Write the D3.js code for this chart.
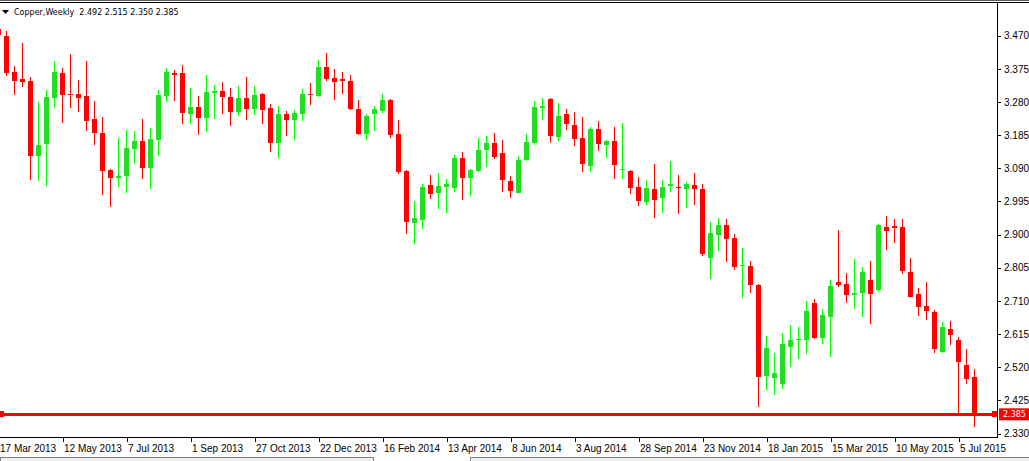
<!DOCTYPE html>
<html>
  <head>
    <meta charset="UTF-8">
    <script src="https://d3js.org/d3.v7.min.js"></script>
    <style type="text/css">
      body { margin: 0; background: #fff; }
      svg { display: block; font-family: "DejaVu Sans", sans-serif; font-size: 8px; }
      .axis text { fill: #000; }
      .title { white-space: pre; }
    </style>
  </head>
<body>
<script type="text/javascript">
var svgWidth = 1029;
var svgHeight = 461;

// weekly bars, first one (cut off at the left edge) starts on this sunday
var firstWeek = "17 Mar 2013";

var opens = [3.489, 3.469, 3.366, 3.346, 3.341, 3.126, 3.1605, 3.292, 3.363, 3.303,
  3.303, 3.297, 3.231, 3.191, 3.085, 3.062, 3.069, 3.146, 3.168, 3.091,
  3.172, 3.298, 3.363, 3.363, 3.2456, 3.266, 3.234, 3.306, 3.3115, 3.294,
  3.251, 3.2915, 3.260, 3.303, 3.263, 3.1625, 3.2456, 3.2285, 3.2456, 3.303,
  3.297, 3.380, 3.349, 3.346, 3.340, 3.260, 3.188, 3.2456, 3.254, 3.286,
  3.188, 3.082, 2.933, 2.942, 3.042, 3.019, 3.0365, 3.0336, 3.1196, 3.062,
  3.082, 3.1425, 3.1625, 3.134, 3.0537, 3.020, 3.1138, 3.1625, 3.263, 3.2886,
  3.1797, 3.2456, 3.214, 3.177, 3.0966, 3.2027, 3.157, 3.168, 3.085, 3.082,
  3.0365, 2.9935, 3.0307, 3.005, 3.039, 3.0365, 3.0307, 3.042, 3.0307, 2.833,
  2.899, 2.9276, 2.890, 2.8102, 2.810, 2.7557, 2.495, 2.489, 2.473, 2.579,
  2.598, 2.599, 2.704, 2.6047, 2.6648, 2.7643, 2.7585, 2.7279, 2.7336, 2.7694,
  2.7422, 2.9219, 2.9247, 2.9219, 2.793, 2.730, 2.6955, 2.678, 2.5646, 2.6296,
  2.598, 2.5264, 2.492];

var highs = [3.500, 3.4835, 3.383, 3.449, 3.352, 3.280, 3.314, 3.3975, 3.3775, 3.4175,
  3.343, 3.3975, 3.282, 3.237, 3.088, 3.177, 3.200, 3.197, 3.231, 3.2055,
  3.314, 3.3775, 3.372, 3.386, 3.320, 3.297, 3.357, 3.329, 3.337, 3.320,
  3.326, 3.3517, 3.326, 3.306, 3.274, 3.2686, 3.254, 3.257, 3.317, 3.3345,
  3.400, 3.4204, 3.3746, 3.366, 3.357, 3.286, 3.2456, 3.2686, 3.303, 3.2886,
  3.2285, 3.084, 2.9964, 3.045, 3.071, 3.0766, 3.059, 3.128, 3.137, 3.088,
  3.177, 3.1826, 3.191, 3.171, 3.068, 3.1253, 3.1883, 3.283, 3.2915, 3.2915,
  3.277, 3.260, 3.251, 3.237, 3.208, 3.2256, 3.171, 3.208, 3.220, 3.085,
  3.065, 3.0565, 3.102, 3.0565, 3.111, 3.071, 3.051, 3.0766, 3.045, 2.936,
  2.948, 2.9448, 2.9018, 2.8617, 2.8245, 2.759, 2.610, 2.560, 2.618, 2.641,
  2.6355, 2.710, 2.7155, 2.687, 2.770, 2.9133, 2.790, 2.830, 2.8072, 2.8245,
  2.9305, 2.9534, 2.9448, 2.9448, 2.833, 2.747, 2.7643, 2.684, 2.6497, 2.6525,
  2.6075, 2.572, 2.515];

var lows = [3.465, 3.355, 3.301, 3.324, 3.057, 3.0545, 3.040, 3.262, 3.221, 3.263,
  3.251, 3.198, 3.158, 3.014, 2.980, 3.0365, 3.020, 3.102, 3.060, 3.030,
  3.126, 3.280, 3.283, 3.217, 3.217, 3.1855, 3.194, 3.231, 3.2456, 3.211,
  3.240, 3.2285, 3.243, 3.217, 3.137, 3.1196, 3.1826, 3.171, 3.2256, 3.2714,
  3.294, 3.340, 3.286, 3.303, 3.257, 3.1855, 3.171, 3.197, 3.2485, 3.176,
  3.074, 2.902, 2.873, 2.916, 3.002, 2.973, 2.962, 3.022, 2.999, 3.0107,
  3.0795, 3.094, 3.1167, 3.022, 3.005, 3.018, 3.111, 3.157, 3.2285, 3.1625,
  3.168, 3.200, 3.154, 3.0795, 3.0795, 3.1396, 3.1196, 3.059, 3.059, 3.0164,
  2.982, 2.985, 2.948, 2.962, 3.022, 2.959, 2.9763, 2.985, 2.839, 2.773,
  2.8537, 2.8216, 2.7987, 2.7184, 2.733, 2.405, 2.455, 2.440, 2.4585, 2.5216,
  2.5445, 2.5588, 2.602, 2.5875, 2.5502, 2.7508, 2.705, 2.6878, 2.665, 2.6448,
  2.7365, 2.8568, 2.8769, 2.787, 2.720, 2.6677, 2.656, 2.5617, 2.5617, 2.5846,
  2.390, 2.473, 2.350];

var closes = [3.472, 3.364, 3.341, 3.338, 3.126, 3.157, 3.294, 3.366, 3.300, 3.300,
  3.292, 3.226, 3.192, 3.083, 3.062, 3.068, 3.148, 3.168, 3.091, 3.174,
  3.300, 3.366, 3.357, 3.249, 3.266, 3.234, 3.309, 3.3115, 3.294, 3.251,
  3.2915, 3.260, 3.300, 3.257, 3.1625, 3.2456, 3.2285, 3.2485, 3.303, 3.300,
  3.380, 3.346, 3.337, 3.341, 3.260, 3.188, 3.240, 3.260, 3.286, 3.186,
  3.0795, 2.936, 2.948, 3.0365, 3.016, 3.039, 3.045, 3.1196, 3.062, 3.085,
  3.1425, 3.1625, 3.1224, 3.0565, 3.025, 3.1138, 3.1654, 3.266, 3.2686, 3.1826,
  3.240, 3.217, 3.174, 3.102, 3.2027, 3.1597, 3.168, 3.0995, 3.088, 3.0336,
  2.9964, 3.0336, 2.999, 3.0365, 3.045, 3.0336, 3.045, 3.0307, 2.8445, 2.9047,
  2.9276, 2.8875, 2.807, 2.813, 2.7557, 2.492, 2.575, 2.5035, 2.5866, 2.598,
  2.601, 2.681, 2.6047, 2.6697, 2.7528, 2.7566, 2.7279, 2.7327, 2.793, 2.7307,
  2.9276, 2.9113, 2.919, 2.7958, 2.7221, 2.6935, 2.682, 2.573, 2.6353, 2.6133,
  2.536, 2.487, 2.385];

var priceTicks = [3.470, 3.375, 3.280, 3.185, 3.090, 2.995, 2.900, 2.805, 2.710, 2.615, 2.520, 2.425, 2.330];
var dateTicks = ["17 Mar 2013", "12 May 2013", "7 Jul 2013", "1 Sep 2013", "27 Oct 2013", "22 Dec 2013",
  "16 Feb 2014", "13 Apr 2014", "8 Jun 2014", "3 Aug 2014", "28 Sep 2014", "23 Nov 2014",
  "18 Jan 2015", "15 Mar 2015", "10 May 2015", "5 Jul 2015"];
var lastPrice = 2.385;
var title = "Copper,Weekly  2.492 2.515 2.350 2.385";

var upColor = "#00ff00", upBody = "#22dd22", downColor = "#ff0000";

var parseDay = d3.utcParse("%d %b %Y");
var start = parseDay(firstWeek);
var weeks = d3.utcWeek.range(start, d3.utcWeek.offset(start, opens.length));

var data = weeks.map(function(d, i) {
  return {date: d, o: opens[i], h: highs[i], l: lows[i], c: closes[i]};
});

var plot = {left: 0, right: 997, top: 3, bottom: 437};

var svg = d3.select("body").append("svg")
  .attr("width", svgWidth)
  .attr("height", svgHeight);

svg.append("rect").attr("width", svgWidth).attr("height", svgHeight).attr("fill", "#fff");

// 8px per week, ticks sit on the bar centre
var tickDates = dateTicks.map(parseDay);
var xScale = d3.scaleUtc()
  .domain([tickDates[0], tickDates[tickDates.length - 1]])
  .range([-1.5, 958.5]);

var yScale = d3.scaleLinear()
  .domain([2.330, 3.470])
  .range([433.5, 35.7]);

var chart = svg.append("g").attr("shape-rendering", "crispEdges");

// wicks
chart.selectAll(".wick")
  .data(data)
  .enter()
  .append("line")
  .attr("class", "wick")
  .attr("x1", function(d) { return xScale(d.date); })
  .attr("x2", function(d) { return xScale(d.date); })
  .attr("y1", function(d) { return yScale(d.h); })
  .attr("y2", function(d) { return yScale(d.l); })
  .attr("stroke", function(d) { return d.c >= d.o ? upColor : downColor; })
  .attr("stroke-width", 1);

// bodies
chart.selectAll(".body")
  .data(data)
  .enter()
  .append("rect")
  .attr("class", "body")
  .attr("x", function(d) { return xScale(d.date) - 2.5; })
  .attr("width", 5)
  .attr("y", function(d) { return yScale(Math.max(d.o, d.c)); })
  .attr("height", function(d) { return Math.max(1.5, Math.abs(yScale(d.o) - yScale(d.c))); })
  .attr("fill", function(d) { return d.c >= d.o ? upBody : downColor; });

// last price line
var yLast = yScale(lastPrice);
chart.append("line")
  .attr("x1", 0).attr("x2", plot.right)
  .attr("y1", yLast).attr("y2", yLast)
  .attr("stroke", downColor).attr("stroke-width", 3);
chart.append("rect").attr("x", 0).attr("y", yLast - 3).attr("width", 4).attr("height", 6).attr("fill", downColor);
chart.append("rect").attr("x", plot.right - 5).attr("y", yLast - 3).attr("width", 6).attr("height", 6).attr("fill", downColor);

// frame
var frame = svg.append("g").attr("shape-rendering", "crispEdges").attr("stroke", "#000");
frame.append("line").attr("x1", 0).attr("x2", svgWidth).attr("y1", 0.5).attr("y2", 0.5).attr("stroke", "#606060");
frame.append("line").attr("x1", 0).attr("x2", svgWidth).attr("y1", 2.5).attr("y2", 2.5);
frame.append("line").attr("x1", plot.right + 0.5).attr("x2", plot.right + 0.5).attr("y1", 2).attr("y2", plot.bottom + 1);
frame.append("line").attr("x1", 0).attr("x2", plot.right + 1).attr("y1", plot.bottom + 0.5).attr("y2", plot.bottom + 0.5);

// price axis
var yAxis = d3.axisRight(yScale)
  .tickValues(priceTicks)
  .tickSize(3)
  .tickPadding(3)
  .tickFormat(d3.format(".3f"));

var gY = svg.append("g")
  .attr("class", "axis")
  .attr("transform", "translate(" + (plot.right + 1) + ",0)")
  .attr("font-family", null).attr("font-size", null)
  .call(yAxis);
gY.select(".domain").remove();
gY.selectAll(".tick line").attr("stroke", "#000").attr("shape-rendering", "crispEdges");

// date axis
var xAxis = d3.axisBottom(xScale)
  .tickValues(tickDates)
  .tickSize(4)
  .tickFormat(d3.utcFormat("%-d %b %Y"));

var gX = svg.append("g")
  .attr("class", "axis")
  .attr("transform", "translate(0," + (plot.bottom + 1) + ")")
  .attr("font-family", null).attr("font-size", null)
  .call(xAxis);
gX.select(".domain").remove();
gX.selectAll(".tick line").attr("stroke", "#000").attr("shape-rendering", "crispEdges");
gX.selectAll(".tick text").attr("text-anchor", "start").attr("x", 1).attr("y", 7);

// last price label
svg.append("rect")
  .attr("x", plot.right + 2).attr("y", yLast - 6)
  .attr("width", svgWidth - plot.right - 2).attr("height", 12)
  .attr("fill", downColor);
svg.append("text")
  .attr("x", plot.right + 6).attr("y", yLast + 3)
  .attr("fill", "#fff")
  .text(d3.format(".3f")(lastPrice));

// title
svg.append("path").attr("d", "M2,10 L9,10 L5.5,14 Z").attr("fill", "#000");
svg.append("text").attr("class", "title").attr("x", 14).attr("y", 15).attr("fill", "#000").text(title);

// window tabs at the bottom
var tabs = svg.append("g").attr("shape-rendering", "crispEdges");
tabs.append("rect").attr("x", 0.5).attr("y", 457.5).attr("width", 373).attr("height", 6)
  .attr("fill", "#f0f0f0").attr("stroke", "#808080");
tabs.append("rect").attr("x", 470.5).attr("y", 457.5).attr("width", 560).attr("height", 6)
  .attr("fill", "#f0f0f0").attr("stroke", "#808080");
</script>
</body>
</html>
